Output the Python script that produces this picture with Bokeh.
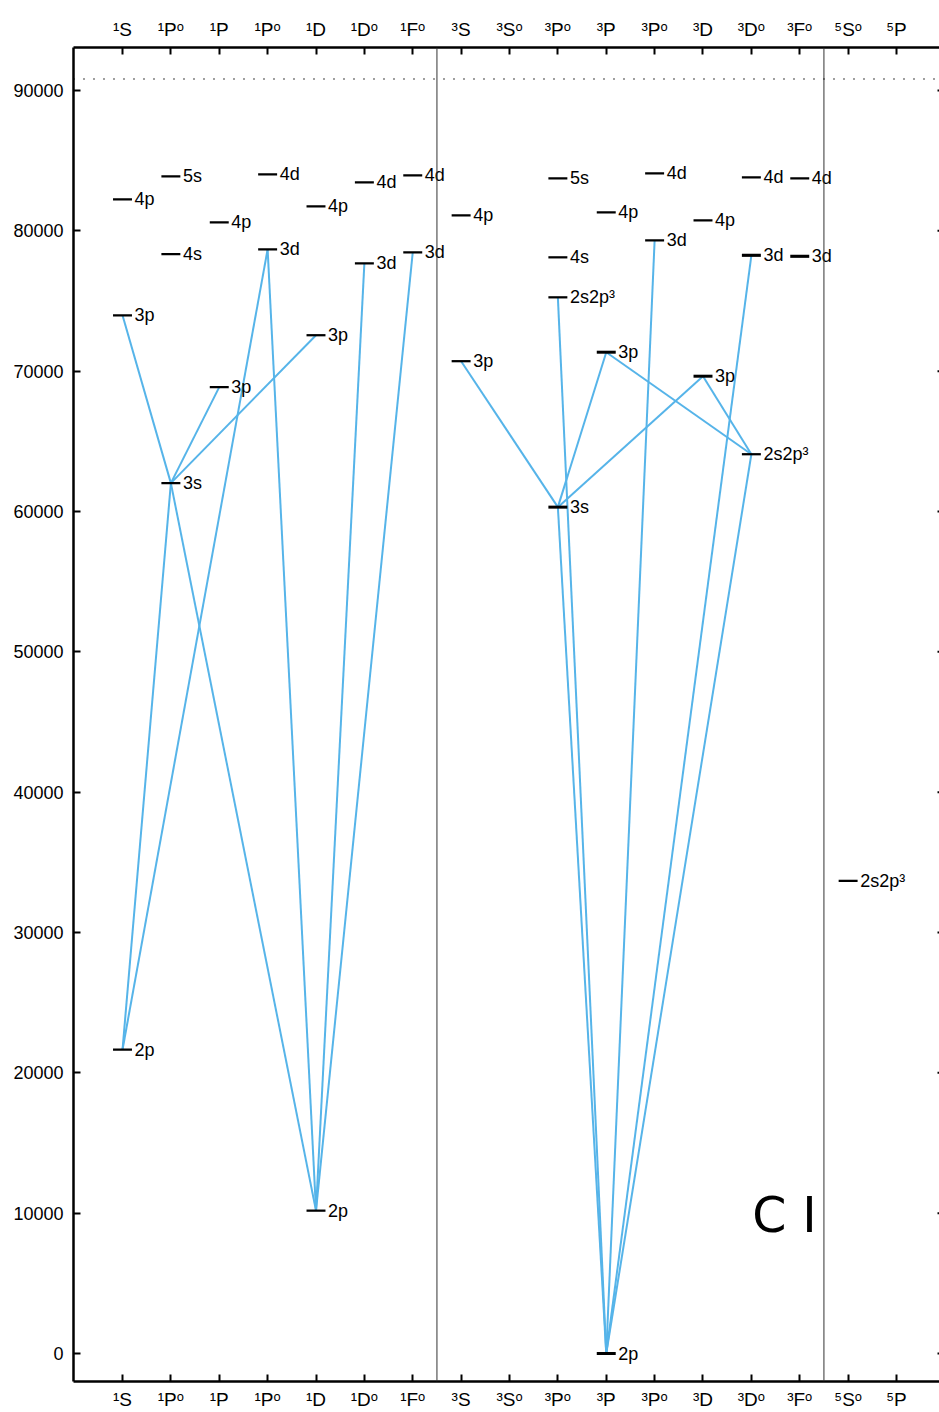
from bokeh.plotting import figure
from bokeh.models import FixedTicker, LinearAxis, Span, ColumnDataSource, Range1d
from bokeh.core.properties import value
from bokeh.embed import file_html
from bokeh.resources import INLINE

# Term columns (x positions 1..17)
categories = ["¹S", "¹Pᵒ", "¹P", "¹Pᵒ", "¹D", "¹Dᵒ", "¹Fᵒ",
              "³S", "³Sᵒ", "³Pᵒ", "³P", "³Pᵒ", "³D", "³Dᵒ", "³Fᵒ",
              "⁵Sᵒ", "⁵P"]

# Energy levels: column index (1-based), energy (cm-1), configuration label
level_col = [1, 1, 1, 2, 2, 2, 3, 3, 4, 4, 5, 5, 5, 6, 6, 7, 7,
             8, 8, 10, 10, 10, 10, 11, 11, 11, 12, 12, 13, 13, 14, 14, 14, 15, 15,
             16]
level_energy = [82240, 73980, 21646, 83880, 78330, 62020, 80600, 68860, 84020, 78680,
                81740, 72560, 10180, 83450, 77680, 83950, 78470,
                81100, 70710, 83740, 78110, 75260, 60310, 81320, 71350, 0,
                84090, 79320, 80740, 69640, 83810, 78250, 64080, 83740, 78180,
                33680]
level_label = ["4p", "3p", "2p", "5s", "4s", "3s", "4p", "3p", "4d", "3d",
               "4p", "3p", "2p", "4d", "3d", "4d", "3d",
               "4p", "3p", "5s", "4s", "2s2p³", "3s", "4p", "3p", "2p",
               "4d", "3d", "4p", "3p", "4d", "3d", "2s2p³", "4d", "3d",
               "2s2p³"]
# Number of closely spaced fine-structure components drawn on each level
level_multiplicity = [1, 1, 1, 1, 1, 1, 1, 1, 1, 1, 1, 1, 1, 1, 1, 1, 1,
                      1, 1, 1, 1, 1, 2, 1, 2, 2, 1, 1, 1, 2, 1, 2, 1, 1, 2,
                      1]

# Transitions (indices into the level lists)
trans_lower = [1, 2, 2, 5, 5, 5, 9, 12, 12,
               18, 22, 22, 22, 21, 25, 25, 25, 24, 29]
trans_upper = [5, 5, 9, 7, 11, 12, 12, 14, 16,
               22, 24, 29, 25, 25, 27, 31, 32, 32, 32]

ionization_limit = 90820
y_ticks = [0, 10000, 20000, 30000, 40000, 50000, 60000, 70000, 80000, 90000]
element_label = "C I"

FONT = "Liberation Sans"
LINE_BLUE = "#56B4E9"

X0, X1 = -0.013, 17.889
PX = (X1 - X0) / 866.0  # data units per pixel along x

p = figure(width=939, height=1412, output_backend="svg", toolbar_location=None,
           x_range=Range1d(X0, X1), y_range=Range1d(-1994, 93062),
           min_border_left=73, min_border_right=0, min_border_top=47, min_border_bottom=30,
           outline_line_color=None)
p.grid.visible = False
p.background_fill_color = "white"

# Separators between spin systems
for xs in (7.5, 15.5):
    p.add_layout(Span(location=xs, dimension="height", line_color="#333333", line_width=1))

# Ionization limit
p.add_layout(Span(location=ionization_limit, dimension="width", line_color="black",
                  line_width=1.4, line_dash="1 9"))

# Transitions
x0 = [level_col[i] for i in trans_lower]
y0 = [level_energy[i] for i in trans_lower]
x1 = [level_col[i] for i in trans_upper]
y1 = [level_energy[i] for i in trans_upper]
p.segment(x0=x0, y0=y0, x1=x1, y1=y1, line_color=LINE_BLUE, line_width=2)

# Level bars and labels
hw = 0.196
src = ColumnDataSource(dict(
    xl=[c - hw for c in level_col], xr=[c + hw for c in level_col],
    xt=[c + 0.25 for c in level_col], y=level_energy, lab=level_label,
    lw=[1.5 + 0.75 * m for m in level_multiplicity]))
p.segment(x0="xl", y0="y", x1="xr", y1="y", source=src, line_color="black", line_width="lw")
p.text(x="xt", y="y", text="lab", source=src, text_font=value(FONT),
       text_font_size="18px", text_align="left", text_baseline="middle", text_color="black")

# Element label
p.text(x=[14.02], y=[9826], text=[element_label], text_font=value("DejaVu Sans"),
       text_font_size="49px", text_align="left", text_baseline="alphabetic", text_color="black")

# Right-side inward ticks (frame edge is cut at the window edge)
p.segment(x0=[X1 - 2 * PX] * len(y_ticks), y0=y_ticks, x1=[X1] * len(y_ticks), y1=y_ticks,
          line_color="black", line_width=2)

# Axes
ticks = list(range(1, len(categories) + 1))
overrides = {t: c for t, c in zip(ticks, categories)}

def style_axis(ax):
    ax.axis_line_width = 2.5
    ax.axis_line_color = "black"
    ax.major_tick_line_width = 2
    ax.major_tick_in = 7
    ax.major_tick_out = 0
    ax.minor_tick_line_color = None
    ax.major_label_text_font = FONT
    ax.major_label_text_font_size = "19px"
    ax.major_label_text_color = "black"

xb = p.xaxis[0]
xb.ticker = FixedTicker(ticks=ticks)
xb.major_label_overrides = overrides
style_axis(xb)
xb.major_label_standoff = 7

xt = LinearAxis(ticker=FixedTicker(ticks=ticks), major_label_overrides=overrides)
style_axis(xt)
xt.major_label_standoff = 8
p.add_layout(xt, "above")

yl = p.yaxis[0]
yl.ticker = FixedTicker(ticks=y_ticks)
style_axis(yl)
yl.major_label_text_font_size = "18px"
yl.major_label_standoff = 10

open("out.html", "w").write(file_html(p, INLINE))
